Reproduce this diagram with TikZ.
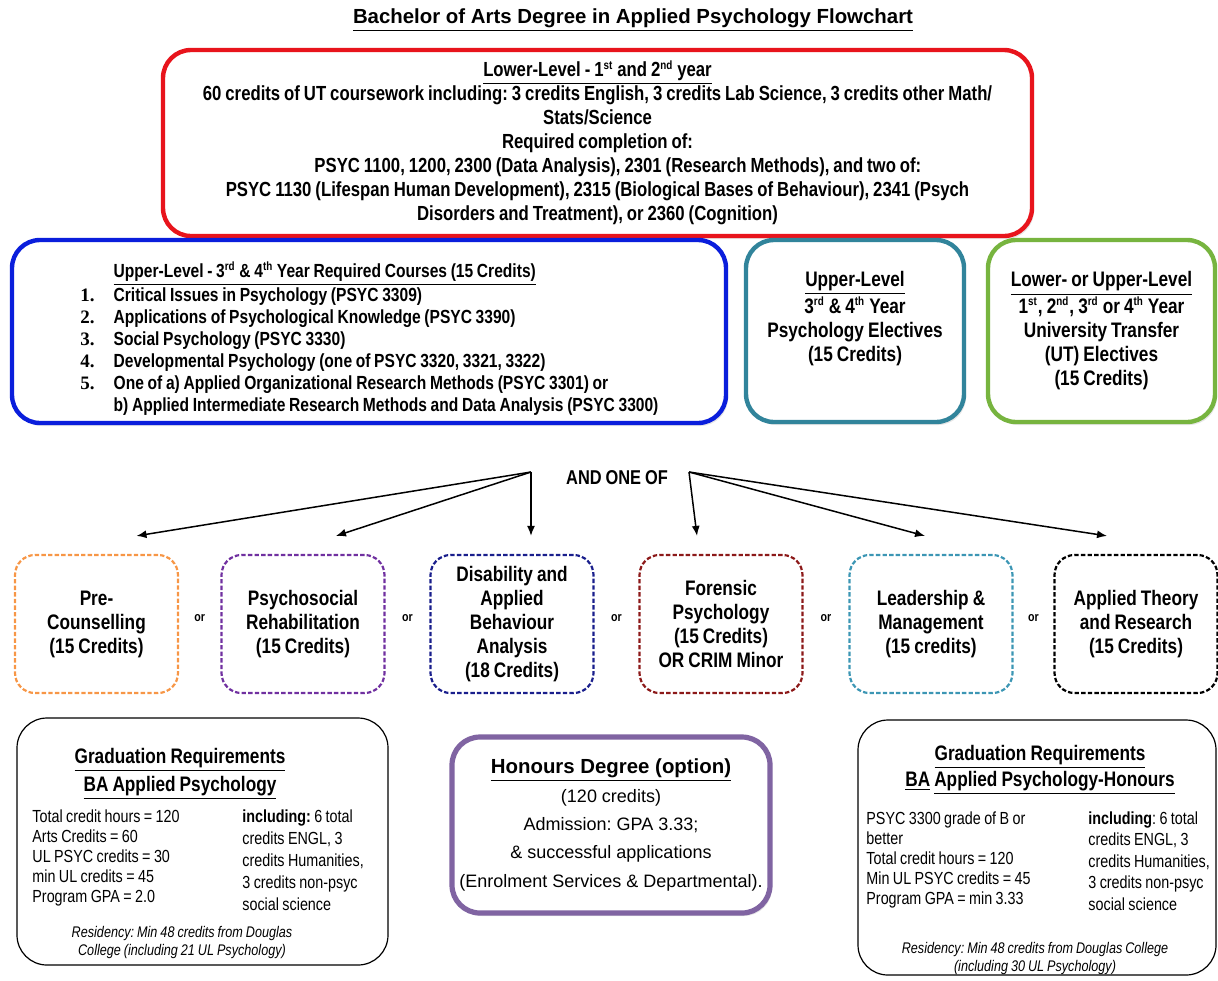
\documentclass[tikz,border=0pt]{standalone}
\usepackage{fontspec}
\setmainfont{Liberation Sans}
\newfontfamily\narrowfont{Liberation Sans}[FakeStretch=0.82, WordSpace=0.85]
\newfontfamily\numfont{Liberation Serif}
\usetikzlibrary{arrows.meta, calc, shadows, positioning}
\frenchspacing

\newcommand{\sups}[1]{\textsuperscript{\fontsize{6}{6}\selectfont #1}}

\definecolor{boxred}{RGB}{232,20,28}
\definecolor{boxblue}{RGB}{10,30,220}
\definecolor{boxteal}{RGB}{49,132,155}
\definecolor{boxgreen}{RGB}{119,180,63}
\definecolor{boxpurple}{RGB}{128,100,162}
\definecolor{dorange}{RGB}{247,150,70}
\definecolor{dpurple}{RGB}{112,48,160}
\definecolor{dnavy}{RGB}{25,30,140}
\definecolor{dred}{RGB}{140,25,25}
\definecolor{dteal}{RGB}{60,150,180}

\tikzset{
  mainbox/.style={draw, fill=white, rounded corners=14pt, line width=2.2pt, inner sep=0pt, align=center,
    drop shadow={opacity=0.2, shadow xshift=1pt, shadow yshift=-1.5pt}},
  optbox/.style={draw, rounded corners=10pt, line width=1.1pt, dash pattern=on 2.2pt off 1.1pt,
    minimum width=81.5pt, minimum height=69pt, align=center, font=\narrowfont\bfseries\fontsize{10.5}{12}\selectfont},
  gradbox/.style={draw, rounded corners=15pt, line width=0.6pt, inner sep=0pt},
  fan/.style={-{Latex[length=5pt,width=4pt]}, line width=0.75pt},
  ortext/.style={font=\narrowfont\bfseries\fontsize{6.5}{7}\selectfont},
  boldtxt/.style={font=\narrowfont\bfseries\fontsize{10.5}{12}\selectfont, align=center},
  coltxt/.style={anchor=north west, align=left, inner sep=0pt},
}

\begin{document}
\begin{tikzpicture}[x=0.5pt, y=-0.5pt]
    \useasboundingbox (0,0) rectangle (1218,980);

    % Title
    \node[font=\bfseries\fontsize{10.2}{12}\selectfont] (title) at (633,20)
        {\underline{Bachelor of Arts Degree in Applied Psychology Flowchart}};

    % --- Lower level (years 1 and 2) ---
    \node[mainbox, draw=boxred, minimum width=434.5pt, minimum height=93pt,
          font=\narrowfont\bfseries\fontsize{10.2}{12}\selectfont] (lower) at (597.5,143)
        {\underline{Lower-Level - 1\sups{st} and 2\sups{nd} year}\\
         60 credits of UT coursework including: 3 credits English, 3 credits Lab Science, 3 credits other Math/\\
         Stats/Science\\
         Required completion of:\\
         \hspace*{2em}PSYC 1100, 1200, 2300 (Data Analysis), 2301 (Research Methods), and two of:\\
         PSYC 1130 (Lifespan Human Development), 2315 (Biological Bases of Behaviour), 2341 (Psych\\
         Disorders and Treatment), or 2360 (Cognition)};

    % --- Upper level row ---
    \node[mainbox, draw=boxblue, minimum width=357pt, minimum height=91.5pt] (upper) at (369,331.5) {};
    \node[coltxt, font=\narrowfont\bfseries\fontsize{9.5}{11}\selectfont] (reqlist) at (80,261)
        {\begin{tabular}{@{}l@{\hspace{9.5pt}}l@{}}
           & \underline{Upper-Level - 3\sups{rd} \& 4\sups{th} Year Required Courses (15 Credits)}\\
         {\numfont 1.} & Critical Issues in Psychology (PSYC 3309)\\
         {\numfont 2.} & Applications of Psychological Knowledge (PSYC 3390)\\
         {\numfont 3.} & Social Psychology (PSYC 3330)\\
         {\numfont 4.} & Developmental Psychology (one of PSYC 3320, 3321, 3322)\\
         {\numfont 5.} & One of a) Applied Organizational Research Methods (PSYC 3301) or\\
           & b) Applied Intermediate Research Methods and Data Analysis (PSYC 3300)
         \end{tabular}};

    \node[mainbox, draw=boxteal, minimum width=109pt, minimum height=91pt] (psyel) at (855,331) {};
    \node[boldtxt] (psyeltxt) at (855,318.5)
        {\underline{Upper-Level}\\ 3\sups{rd} \& 4\sups{th} Year\\ Psychology Electives\\ (15 Credits)};

    \node[mainbox, draw=boxgreen, minimum width=113.5pt, minimum height=91pt,
          font=\narrowfont\bfseries\fontsize{10.5}{12}\selectfont] (utel) at (1101.5,331)
        {\underline{Lower- or Upper-Level}\\
         1\sups{st}, 2\sups{nd}, 3\sups{rd} or 4\sups{th} Year\\
         University Transfer\\ (UT) Electives\\ (15 Credits)};

    % --- And one of ---
    \node[font=\narrowfont\bfseries\fontsize{10}{12}\selectfont] (andone) at (617,478) {AND ONE OF};
    \coordinate (fanL) at (531,472);
    \coordinate (fanR) at (689,472);

    % Options (dashed boxes)
    \foreach \n/\x/\col/\txt in {
        pc/96.5/dorange/{Pre-\\Counselling\\(15 Credits)},
        psr/303/dpurple/{Psychosocial\\Rehabilitation\\(15 Credits)},
        daba/512/dnavy/{Disability and\\Applied\\Behaviour\\Analysis\\(18 Credits)},
        fp/721/dred/{Forensic\\Psychology\\(15 Credits)\\OR CRIM Minor},
        lm/931/dteal/{Leadership \&\\Management\\(15 credits)},
        atr/1136/black/{Applied Theory\\and Research\\(15 Credits)}}
        \node[optbox, draw=\col] (\n) at (\x,624) {\txt};

    \foreach \a/\b in {pc/psr, psr/daba, daba/fp, fp/lm, lm/atr}
        \node[ortext] (or-\a) at ($(\a.east)!0.5!(\b.west)+(0,-6)$) {or};

    \foreach \n/\dx in {pc/40, psr/33, daba/19}
        \draw[fan] (fanL) -- ($(\n.north)+(\dx,-18)$);
    \foreach \n/\dx in {fp/-24, lm/-6, atr/-29}
        \draw[fan] (fanR) -- ($(\n.north)+(\dx,-18)$);

    % --- Graduation requirements: BA ---
    \node[gradbox, minimum width=185.5pt, minimum height=123.5pt] (grad) at (202.5,841.5) {};
    \node[font=\narrowfont\bfseries\fontsize{10.5}{14}\selectfont, align=center] (gradhead) at (180,774)
        {\underline{Graduation Requirements}\\ \underline{BA Applied Psychology}};
    \node[coltxt, font=\narrowfont\fontsize{8.75}{10}\selectfont] (gradleft) at (32,809)
        {Total credit hours = 120\\ Arts Credits = 60\\ UL PSYC credits = 30\\ min UL credits = 45\\ Program GPA = 2.0};
    \node[coltxt, font=\narrowfont\fontsize{8.75}{11}\selectfont] (gradright) at (242,809)
        {\textbf{including:} 6 total\\ credits ENGL, 3\\ credits Humanities,\\ 3 credits non-psyc\\ social science};
    \node[font=\narrowfont\itshape\fontsize{7.7}{9}\selectfont, align=center] (gradres) at (182,942)
        {Residency: Min 48 credits from Douglas\\ College (including 21 UL Psychology)};

    % --- Honours option ---
    \node[mainbox, draw=boxpurple, line width=2.6pt, minimum width=159pt, minimum height=88pt,
          font=\fontsize{9}{14.2}\selectfont] (honours) at (611,825)
        {{\fontsize{10.2}{14.2}\selectfont\bfseries\underline{Honours Degree (option)}}\\
         (120 credits)\\ Admission: GPA 3.33;\\ \& successful applications\\ (Enrolment Services \& Departmental).};

    % --- Graduation requirements: Honours ---
    \node[gradbox, minimum width=179pt, minimum height=127.5pt] (gradhon) at (1037,847.5) {};
    \node[font=\narrowfont\bfseries\fontsize{10.5}{13}\selectfont, align=center] (honhead) at (1040,770)
        {\underline{Graduation Requirements}\\ \underline{BA} \underline{Applied Psychology-Honours}};
    \node[coltxt, font=\narrowfont\fontsize{8.75}{10}\selectfont] (honleft) at (866,811)
        {PSYC 3300 grade of B or\\ better\\ Total credit hours = 120\\ Min UL PSYC credits = 45\\ Program GPA = min 3.33};
    \node[coltxt, font=\narrowfont\fontsize{8.75}{10.8}\selectfont] (honright) at (1088,811)
        {\textbf{including}: 6 total\\ credits ENGL, 3\\ credits Humanities,\\ 3 credits non-psyc\\ social science};
    \node[font=\narrowfont\itshape\fontsize{7.7}{9}\selectfont, align=center] (honres) at (1035,958)
        {Residency: Min 48 credits from Douglas College\\ (including 30 UL Psychology)};

\end{tikzpicture}
\end{document}
